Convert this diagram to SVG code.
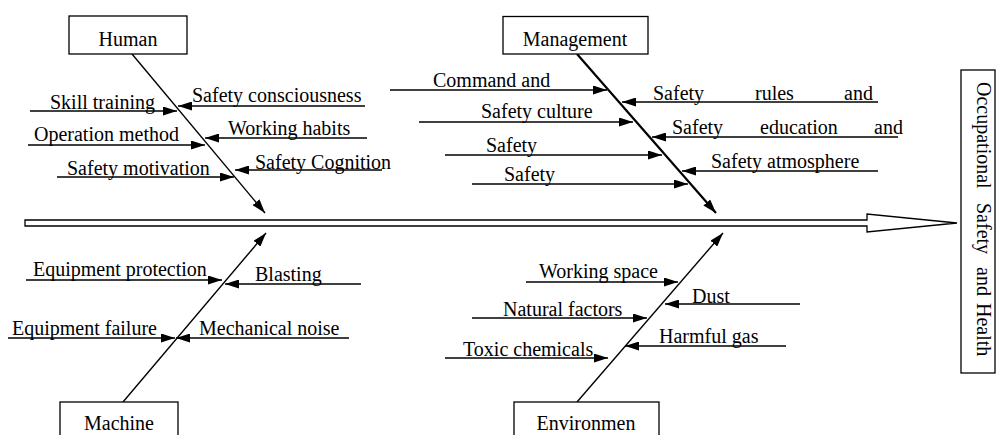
<svg xmlns="http://www.w3.org/2000/svg" width="996" height="435" viewBox="0 0 996 435">
<style>
  text { font-family: "Liberation Serif", "Times New Roman", serif; font-size: 20px; fill: #000; }
  .box { fill: #fff; stroke: #000; stroke-width: 1.3; }
  .rib { stroke: #000; stroke-width: 1.3; fill: none; marker-end: url(#ah); }
  .bone { stroke: #000; stroke-width: 1.4; fill: none; marker-end: url(#ah); }
  .thick { stroke-width: 2.2; }
  .mid { text-anchor: middle; }
</style>
<defs>
  <marker id="ah" markerUnits="userSpaceOnUse" markerWidth="14" markerHeight="9" refX="14" refY="4.5" orient="auto">
    <path d="M0,0 L14,4.5 L0,9 Z" fill="#000"/>
  </marker>
</defs>
<rect width="996" height="435" fill="#fff"/>

<g id="spine">
  <path d="M25,220 H867 V214 L957,223 L867,232 V226 H25 Z" fill="#fff" stroke="#000" stroke-width="1.3"/>
</g>

<g id="connectors">
  <!-- bones -->
  <line class="bone" x1="132" y1="54" x2="265" y2="213"/>
  <line class="bone thick" x1="577" y1="54" x2="716" y2="213"/>
  <line class="bone" x1="123" y1="402" x2="266" y2="233"/>
  <line class="bone" x1="577" y1="402" x2="723" y2="233"/>
  <!-- human ribs -->
  <line class="rib" x1="30" y1="111" x2="177" y2="111"/>
  <line class="rib" x1="365" y1="106" x2="178" y2="106"/>
  <line class="rib" x1="28" y1="145" x2="205" y2="145"/>
  <line class="rib" x1="367" y1="138" x2="205" y2="138"/>
  <line class="rib" x1="57" y1="177" x2="234" y2="177"/>
  <line class="rib" x1="382" y1="170" x2="235" y2="170"/>
  <!-- management ribs -->
  <line class="rib" x1="390" y1="90" x2="607" y2="90"/>
  <line class="rib" x1="419" y1="122" x2="633" y2="122"/>
  <line class="rib" x1="445" y1="155" x2="662" y2="155"/>
  <line class="rib" x1="472" y1="184" x2="688" y2="184"/>
  <line class="rib" x1="878" y1="102" x2="622" y2="102"/>
  <line class="rib" x1="898" y1="137" x2="652" y2="137"/>
  <line class="rib" x1="878" y1="171" x2="682" y2="171"/>
  <!-- machine ribs -->
  <line class="rib" x1="26" y1="280" x2="222" y2="280"/>
  <line class="rib" x1="361" y1="284" x2="225" y2="284"/>
  <line class="rib" x1="8" y1="338" x2="175" y2="338"/>
  <line class="rib" x1="349" y1="338" x2="176" y2="338"/>
  <!-- environment ribs -->
  <line class="rib" x1="526" y1="282" x2="678" y2="282"/>
  <line class="rib" x1="800" y1="304" x2="665" y2="304"/>
  <line class="rib" x1="472" y1="318" x2="647" y2="318"/>
  <line class="rib" x1="786" y1="346" x2="625" y2="346"/>
  <line class="rib" x1="445" y1="358" x2="608" y2="358"/>
</g>

<g id="human">
  <rect class="box" x="69" y="16" width="118" height="38"/>
  <text class="mid" x="128" y="46">Human</text>
  <text x="50" y="109">Skill training</text>
  <text x="192" y="102">Safety consciousness</text>
  <text x="34" y="141">Operation method</text>
  <text x="228" y="135">Working habits</text>
  <text x="67" y="175">Safety motivation</text>
  <text x="255" y="169">Safety Cognition</text>
</g>

<g id="management">
  <rect class="box" x="503" y="16.5" width="145" height="37.5"/>
  <text class="mid" x="575" y="46">Management</text>
  <text x="433" y="87">Command and</text>
  <text x="481" y="118">Safety culture</text>
  <text x="486" y="152">Safety</text>
  <text x="504" y="181">Safety</text>
  <text y="100"><tspan x="653">Safety</tspan><tspan x="755">rules</tspan><tspan x="844">and</tspan></text>
  <text y="134"><tspan x="672">Safety</tspan><tspan x="760">education</tspan><tspan x="874">and</tspan></text>
  <text x="711" y="168">Safety atmosphere</text>
</g>

<g id="machine">
  <rect class="box" x="60" y="402" width="118" height="45"/>
  <text class="mid" x="119" y="430">Machine</text>
  <text x="33" y="276">Equipment protection</text>
  <text x="255" y="281">Blasting</text>
  <text x="12" y="335">Equipment failure</text>
  <text x="199" y="335">Mechanical noise</text>
</g>

<g id="environment">
  <rect class="box" x="514" y="402" width="145" height="45"/>
  <text class="mid" x="586" y="430">Environmen</text>
  <text x="539" y="278">Working space</text>
  <text x="692" y="303">Dust</text>
  <text x="503" y="316">Natural factors</text>
  <text x="659" y="343">Harmful gas</text>
  <text x="463" y="356">Toxic chemicals</text>
</g>

<g id="outcome">
  <rect class="box" x="961" y="70" width="34" height="303"/>
  <g transform="translate(977,0) rotate(90)">
    <text y="0"><tspan x="82">Occupational</tspan><tspan x="203">Safety</tspan><tspan x="267">and</tspan><tspan x="303">Health</tspan></text>
  </g>
</g>
</svg>
